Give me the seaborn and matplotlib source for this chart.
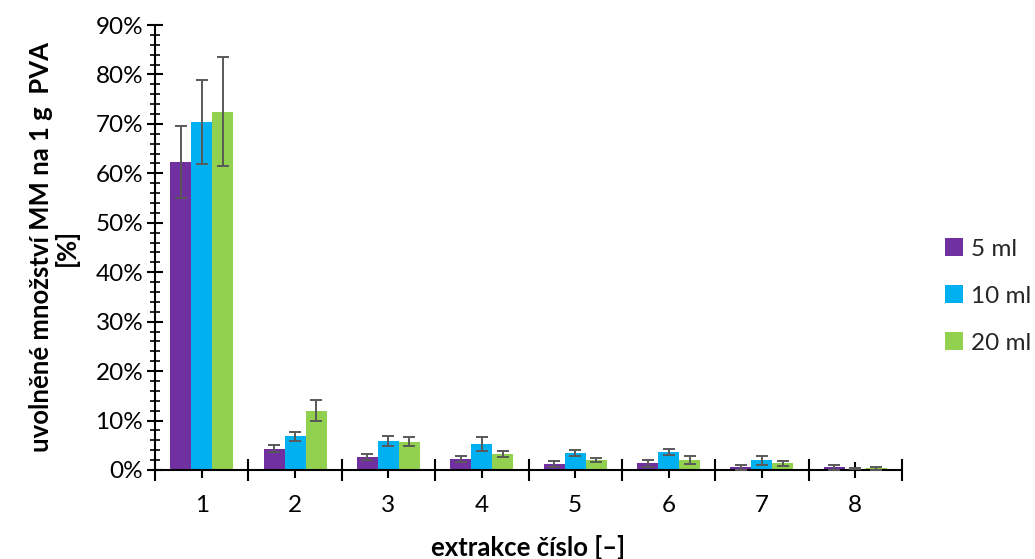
import numpy as np
import pandas as pd
import matplotlib
matplotlib.use("Agg")
import matplotlib.pyplot as plt
from matplotlib.ticker import PercentFormatter, MultipleLocator, FixedLocator
import seaborn as sns

categories = ["1", "2", "3", "4", "5", "6", "7", "8"]
series = ["5 ml", "10 ml", "20 ml"]
vals_5 = [62.3, 4.3, 2.6, 2.2, 1.15, 1.35, 0.55, 0.55]
vals_10 = [70.4, 6.8, 5.9, 5.3, 3.4, 3.65, 2.0, 0.27]
vals_20 = [72.5, 12.0, 5.7, 3.2, 2.0, 2.0, 1.35, 0.4]
err_5 = [7.2, 0.7, 0.6, 0.55, 0.6, 0.65, 0.45, 0.45]
err_10 = [8.5, 0.9, 0.95, 1.4, 0.55, 0.55, 0.9, 0.1]
err_20 = [11.1, 2.1, 0.9, 0.65, 0.35, 0.85, 0.55, 0.3]
colors = ["#7030A0", "#00B0F0", "#92D050"]

sns.set_theme(style="white")
plt.rcParams["font.family"] = ["Lato", "DejaVu Sans"]

rows = []
for s, v, e in zip(series, [vals_5, vals_10, vals_20], [err_5, err_10, err_20]):
    for c, vi, ei in zip(categories, v, e):
        rows.append({"extrakce": c, "objem": s, "value": vi / 100.0, "err": ei / 100.0})
df = pd.DataFrame(rows)

fig = plt.figure(figsize=(10.35, 5.59), dpi=100)
ax = fig.add_axes([155 / 1035, 1 - 470 / 559, (902 - 155) / 1035, (470 - 25) / 559])

sns.barplot(data=df, x="extrakce", y="value", hue="objem", order=categories,
            hue_order=series, palette=colors, width=0.675, errorbar=None,
            saturation=1, ax=ax, legend=True, linewidth=0)

for cont, s in zip(ax.containers, series):
    sub = df[df["objem"] == s].set_index("extrakce").loc[categories]
    xs = [p.get_x() + p.get_width() / 2 for p in cont.patches]
    hs = [p.get_height() for p in cont.patches]
    ax.errorbar(xs, hs, yerr=sub["err"].values, fmt="none", ecolor="#595959",
                elinewidth=1.4, capsize=4.5, capthick=1.4, zorder=5)

ax.set_xlim(-0.5, len(categories) - 0.5)
ax.set_ylim(0, 0.9)
ax.yaxis.set_major_locator(MultipleLocator(0.1))
ax.yaxis.set_minor_locator(MultipleLocator(0.02))
ax.yaxis.set_major_formatter(PercentFormatter(1.0, decimals=0))
ax.xaxis.set_major_locator(FixedLocator(np.arange(len(categories))))
ax.xaxis.set_minor_locator(FixedLocator(np.arange(-0.5, len(categories), 1.0)))
ax.set_xticklabels(categories)

for side in ["top", "right"]:
    ax.spines[side].set_visible(False)
for side in ["left", "bottom"]:
    ax.spines[side].set_color("black")
    ax.spines[side].set_linewidth(1.5)

ax.tick_params(axis="y", which="major", direction="inout", length=11, width=1.5,
               color="black", labelsize=17.5, pad=3, left=True)
ax.tick_params(axis="y", which="minor", direction="inout", length=7, width=1.2,
               color="black", left=True)
ax.tick_params(axis="x", which="major", direction="inout", length=12, width=1.5,
               color="black", labelsize=17.5, pad=12, bottom=True)
ax.tick_params(axis="x", which="minor", direction="inout", length=16, width=1.5,
               color="black", bottom=True)
for lbl in ax.get_xticklabels() + ax.get_yticklabels():
    lbl.set_color("black")

ax.set_xlabel("extrakce číslo [–]", fontsize=18.5, fontweight="bold", color="black",
              labelpad=14)
ax.set_ylabel("uvolněné množství MM na 1 g  PVA\n[%]", fontsize=18.5,
              fontweight="bold", color="black", labelpad=12, linespacing=1.05)

handles, labels = ax.get_legend_handles_labels()
ax.legend(handles, labels, loc="center left", bbox_to_anchor=(935 / 1035, 1 - 296 / 559),
          bbox_transform=fig.transFigure, frameon=False, fontsize=17.5,
          handlelength=0.75, handleheight=0.75, handletextpad=0.35, labelspacing=1.05,
          borderaxespad=0)
ax.grid(False)

fig.savefig("out.png", dpi=100, facecolor="white")
